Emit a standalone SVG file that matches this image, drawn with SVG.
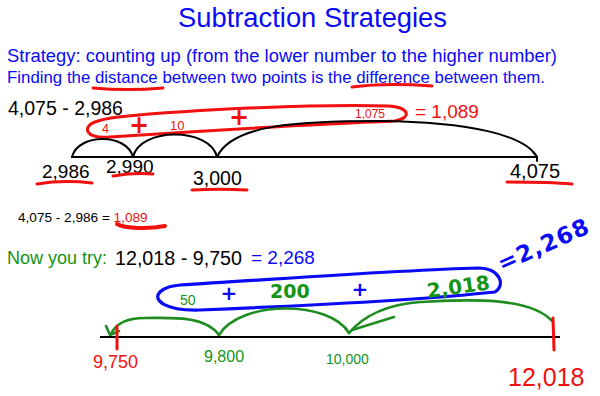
<svg xmlns="http://www.w3.org/2000/svg" width="600" height="396" viewBox="0 0 600 396">
<style>
  .sans { font-family: "Liberation Sans", Arial, sans-serif; }
  .hand { font-family: "DejaVu Sans", "Liberation Sans", sans-serif; font-weight: bold; }
  .blue { fill: #0a0af5; }
  .red { fill: #f01010; }
  .green { fill: #149414; }
  .black { fill: #000; }
  .rs { fill: none; stroke: #f01010; stroke-width: 3; stroke-linecap: round; stroke-linejoin: round; }
  .bs { fill: none; stroke: #0a0af5; stroke-width: 3.2; stroke-linecap: round; stroke-linejoin: round; }
  .gs { fill: none; stroke: #1e8c1e; stroke-width: 2.6; stroke-linecap: round; stroke-linejoin: round; }
  .ks { fill: none; stroke: #000; stroke-width: 2; stroke-linecap: round; }
</style>
<rect width="600" height="396" fill="#fff"/>

<g id="header">
  <text class="sans blue" x="178" y="27" font-size="27" textLength="269" lengthAdjust="spacingAndGlyphs">Subtraction Strategies</text>
  <text class="sans blue" x="7" y="62" font-size="18" textLength="550" lengthAdjust="spacingAndGlyphs">Strategy: counting up (from the lower number to the higher number)</text>
  <text class="sans blue" x="7" y="83" font-size="16.5" textLength="538" lengthAdjust="spacingAndGlyphs">Finding the distance between two points is the difference between them.</text>
  <path class="rs" d="M93,88 C115,90 140,90 163,88"/>
  <path class="rs" d="M352,87 C375,84 405,84 432,86"/>
</g>

<g id="example1">
  <text class="sans black" x="8" y="115" font-size="19.5">4,075 - 2,986</text>
  <path class="rs" d="M118,117 C200,109 320,104 388,106 C410,107 412,118 395,121 C320,124 200,131 110,137 C85,139 82,127 95,122 C103,119 110,118 118,117 Z"/>
  <text class="sans red" x="102" y="133" font-size="12.5">4</text>
  <text class="hand red" x="139" y="133" font-size="24" text-anchor="middle">+</text>
  <text class="sans red" x="170" y="130" font-size="13">10</text>
  <text class="hand red" x="239" y="125" font-size="24" text-anchor="middle">+</text>
  <text class="sans red" x="355" y="118" font-size="12">1,075</text>
  <text class="sans red" x="415" y="118" font-size="19">= 1,089</text>
</g>

<g id="numberline1">
  <path class="ks" d="M72,157 L537,157"/>
  <g id="connectors1">
    <path class="ks" d="M72,157 C78,133 127,133 133,157"/>
    <path class="ks" d="M133,157 C140,127 210,127 217,157"/>
    <path class="ks" d="M217,157 C232,124 300,121 380,121 C470,122 525,135 537,157"/>
    <path class="ks" d="M533,152 L537,157 L537,161"/>
  </g>
  <text class="sans black" x="42" y="178" font-size="19">2,986</text>
  <text class="sans black" x="106" y="173" font-size="19">2,990</text>
  <text class="sans black" x="193" y="185" font-size="19.5">3,000</text>
  <text class="sans black" x="510" y="178" font-size="20">4,075</text>
  <path class="rs" d="M37,184 C55,181 75,181 92,183"/>
  <path class="rs" d="M113,176 C125,174 140,173 153,174"/>
  <path class="rs" d="M192,190 C210,189 230,189 247,190"/>
  <path class="rs" d="M507,182 C530,182 550,182 572,184"/>
</g>

<g id="summary">
  <text class="sans black" x="18" y="222" font-size="13.6">4,075 - 2,986 = <tspan class="red">1,089</tspan></text>
  <path d="M117,224 C125,229 150,229 165,226" fill="none" stroke="#f01010" stroke-width="4" stroke-linecap="round"/>
</g>

<g id="try">
  <text class="sans green" x="7" y="264" font-size="18">Now you try:</text>
  <text class="sans black" x="115" y="265" font-size="19.7">12,018 - 9,750</text>
  <text class="sans blue" x="251" y="264" font-size="19">= 2,268</text>
  <text class="hand blue" x="502" y="272" font-size="23" letter-spacing="1" transform="rotate(-24 502 272)">=2,268</text>
</g>

<g id="example2">
  <path class="bs" d="M180,285 C280,279 400,270 478,268 C500,268 506,285 495,292 C420,300 300,306 200,310 C165,311 152,300 160,292 C165,287 172,286 180,285 Z"/>
  <text class="sans green" x="180" y="305" font-size="14">50</text>
  <text class="hand blue" x="229" y="300" font-size="20" text-anchor="middle">+</text>
  <text class="hand green" x="270" y="298" font-size="19">200</text>
  <text class="hand blue" x="360" y="296" font-size="20" text-anchor="middle">+</text>
  <text class="hand green" x="428" y="298" font-size="20" transform="rotate(-8 428 298)">2,018</text>
</g>

<g id="numberline2">
  <path d="M100,337 L560,337" fill="none" stroke="#000" stroke-width="2.2"/>
  <g id="connectors2">
    <path class="gs" d="M553,322 C530,295 460,300 420,302 C380,305 360,320 349,333"/>
    <path class="gs" d="M352,330 L394,317"/>
    <path class="gs" d="M349,333 C330,300 240,300 219,335"/>
    <path class="gs" d="M219,335 C205,315 170,318 145,318 C125,318 115,325 111,334"/>
    <path class="gs" d="M106,326 L110,335 L119,331"/>
  </g>
  <path class="rs" d="M117,326 L117,349"/>
  <path class="rs" d="M553,318 L554,350"/>
  <text class="sans red" x="93" y="368" font-size="18">9,750</text>
  <text class="sans green" x="204" y="362" font-size="16">9,800</text>
  <text class="sans green" x="326" y="364" font-size="14">10,000</text>
  <text class="sans red" x="508" y="386" font-size="25">12,018</text>
</g>
</svg>
